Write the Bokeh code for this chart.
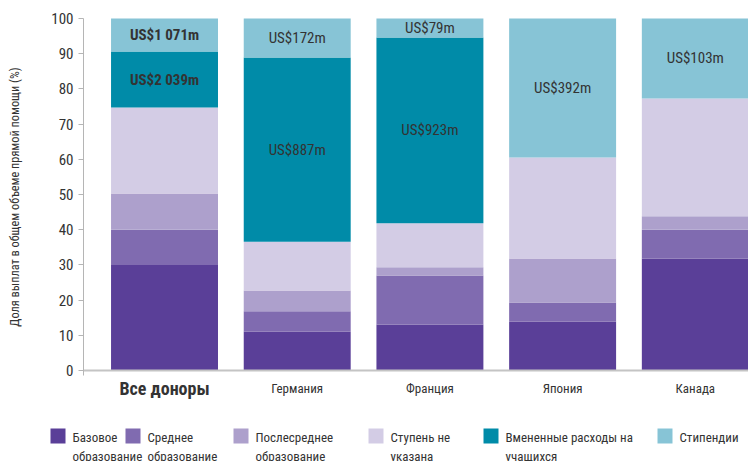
from bokeh.plotting import figure
from bokeh.models import Range1d, FixedTicker, ColumnDataSource, LinearAxis
from bokeh.core.properties import value
from bokeh.embed import file_html
from bokeh.resources import INLINE

FONT = "'Roboto Condensed', 'Liberation Sans Narrow', 'DejaVu Sans Condensed', Roboto"
TXT = "#333333"

categories = ["Все доноры", "Германия", "Франция", "Япония", "Канада"]
series_names = ["Базовое\nобразование", "Среднее\nобразование", "Послесреднее\nобразование",
                "Ступень не\nуказана", "Вмененные расходы на\nучащихся", "Стипендии"]
basic = [30.0, 11.1, 13.1, 13.9, 31.8]
secondary = [10.0, 5.7, 13.9, 5.4, 8.2]
post_secondary = [10.3, 5.9, 2.3, 12.5, 3.8]
unspecified = [24.4, 13.9, 12.5, 28.7, 33.5]
imputed = [15.9, 52.3, 52.8, 0.0, 0.0]
scholarships = [9.4, 11.1, 5.4, 39.5, 22.7]
imputed_labels = ["US$2 039m", "US$887m", "US$923m", "", ""]
scholarship_labels = ["US$1 071m", "US$172m", "US$79m", "US$392m", "US$103m"]
y_ticks = [0, 10, 20, 30, 40, 50, 60, 70, 80, 90, 100]
colors = ["#5a3f98", "#806bb0", "#ada0cc", "#d3cce5", "#008ba8", "#87c4d6"]

# ---- layout (pixels of the 748x461 canvas) ----
W, H = 748, 461
PX_PER_X, X_START = 132.7, -1.236          # category spacing / left edge of canvas
PX_PER_Y, Y_TOP = 3.52, 100 + 18 / 3.52     # value scale / top edge of canvas
AXIS_PX = 83                                 # y-axis position
legend_x = [50, 125, 233, 368, 483, 657]     # legend swatch columns
LEG_TOP, LEG_SW = 428, 15


def sx(px):
    return X_START + px / PX_PER_X


def sy(py):
    return Y_TOP - py / PX_PER_Y


keys = ["basic", "secondary", "post_secondary", "unspecified", "imputed", "scholarships"]
xs = list(range(len(categories)))
src = ColumnDataSource(dict(x=xs, basic=basic, secondary=secondary, post_secondary=post_secondary,
                            unspecified=unspecified, imputed=imputed, scholarships=scholarships))

p = figure(width=W, height=H, output_backend="svg", toolbar_location=None,
           x_range=Range1d(sx(0), sx(W)), y_range=Range1d(sy(H), sy(0)),
           x_axis_location=None, y_axis_location=None,
           min_border_left=0, min_border_right=0, min_border_top=0, min_border_bottom=0)
p.outline_line_color = None
p.xgrid.visible = False
p.ygrid.visible = False

p.vbar_stack(keys, x="x", width=0.806, color=colors, line_color=None, source=src)

# x baseline axis (no ticks)
xaxis = LinearAxis(fixed_location=0, ticker=FixedTicker(ticks=[]), bounds=(sx(AXIS_PX), sx(W)),
                   axis_line_color="#c4c4c4", axis_line_width=2,
                   major_tick_line_color=None, minor_tick_line_color=None)
p.add_layout(xaxis, "below")

# y axis
yaxis = LinearAxis(fixed_location=sx(AXIS_PX), ticker=FixedTicker(ticks=y_ticks), bounds=(-1.5, 100),
                   minor_tick_line_color=None, major_tick_in=0, major_tick_out=5,
                   axis_line_color="#b5b5b5", major_tick_line_color="#b5b5b5",
                   major_label_text_font=FONT, major_label_text_font_size="15px",
                   major_label_text_color=TXT,
                   axis_label="Доля выплат в общем объеме прямой помощи (%)",
                   axis_label_text_font=FONT, axis_label_text_font_size="12.3px",
                   axis_label_text_font_style="normal", axis_label_text_color=TXT,
                   axis_label_standoff=26)
p.add_layout(yaxis, "left")

# segment labels
lab_x, lab_y, lab_t, lab_style = [], [], [], []
for i in xs:
    base = basic[i] + secondary[i] + post_secondary[i] + unspecified[i]
    if imputed_labels[i]:
        lab_x.append(i); lab_y.append(base + imputed[i] / 2); lab_t.append(imputed_labels[i])
        lab_style.append("bold" if i == 0 else "normal")
    top = base + imputed[i]
    lab_x.append(i); lab_y.append(top + scholarships[i] / 2); lab_t.append(scholarship_labels[i])
    lab_style.append("bold" if i == 0 else "normal")
lsrc = ColumnDataSource(dict(x=lab_x, y=lab_y, t=lab_t, s=lab_style))
p.text(x="x", y="y", text="t", source=lsrc, text_align="center", text_baseline="middle",
       text_font=value(FONT), text_font_size="15px", text_color=TXT, text_font_style="s")

# category labels under the baseline
csrc = ColumnDataSource(dict(x=xs, y=[sy(388)] * len(xs), t=categories,
                             s=["bold"] + ["normal"] * (len(xs) - 1),
                             fs=["18px"] + ["13px"] * (len(xs) - 1)))
p.text(x="x", y="y", text="t", source=csrc, text_align="center", text_baseline="middle",
       text_font=value(FONT), text_font_size="fs", text_color=TXT, text_font_style="s")

# legend (swatches + two-line labels)
leg = ColumnDataSource(dict(l=[sx(v) for v in legend_x], r=[sx(v + LEG_SW) for v in legend_x],
                            tx=[sx(v + 22) for v in legend_x], c=colors, t=series_names))
p.quad(left="l", right="r", bottom=sy(LEG_TOP + LEG_SW), top=sy(LEG_TOP), color="c",
       line_color=None, source=leg)
p.text(x="tx", y=sy(LEG_TOP + 1), text="t", source=leg, text_align="left", text_baseline="top",
       text_font=value(FONT), text_font_size="13px", text_color=TXT, text_line_height=1.3)

open("out.html", "w").write(file_html(p, INLINE))
